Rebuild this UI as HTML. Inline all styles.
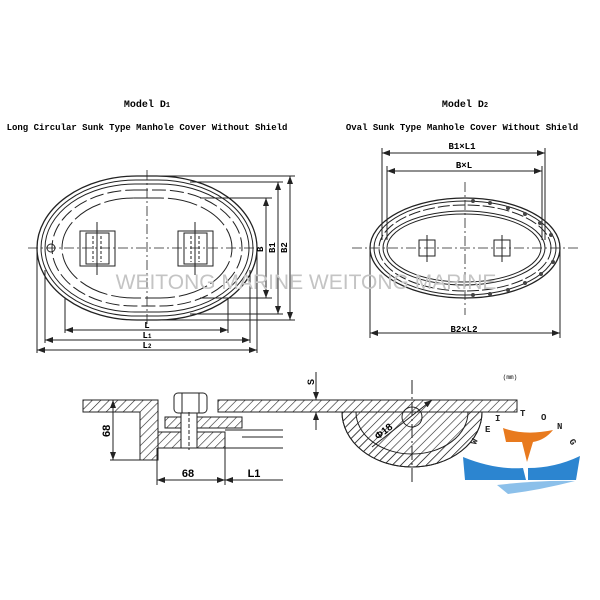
<!DOCTYPE html>
<html><head><meta charset="utf-8">
<style>
html,body{margin:0;padding:0;background:#fff;}
svg{display:block;}
text{font-family:"Liberation Mono",monospace;}
</style></head><body>
<svg width="600" height="600" viewBox="0 0 600 600" xmlns="http://www.w3.org/2000/svg">
<defs>
<pattern id="h" width="6" height="6" patternUnits="userSpaceOnUse" patternTransform="rotate(45)">
<line x1="0" y1="0" x2="0" y2="6" stroke="#222" stroke-width="1.2"/>
</pattern>
<marker id="a" markerWidth="8" markerHeight="6" refX="8" refY="3" orient="auto-start-reverse" markerUnits="userSpaceOnUse">
<path d="M0,0 L8,3 L0,6z" fill="#222"/></marker>
</defs>
<rect width="600" height="600" fill="#fff"/>
<text x="147" y="107" font-size="10" font-weight="bold" text-anchor="middle">Model D<tspan font-size="7">1</tspan></text>
<text x="147" y="130" font-size="9" font-weight="bold" text-anchor="middle">Long Circular Sunk Type Manhole Cover Without Shield</text>
<text x="465" y="107" font-size="10" font-weight="bold" text-anchor="middle">Model D<tspan font-size="7">2</tspan></text>
<text x="462" y="130" font-size="9" font-weight="bold" text-anchor="middle">Oval Sunk Type Manhole Cover Without Shield</text>

<g fill="none" stroke="#222" stroke-width="1">
<rect x="37" y="176" width="220" height="144" rx="100" ry="72" stroke-width="1.3"/>
<rect x="41" y="180" width="212" height="136" rx="95" ry="68"/>
<rect x="45" y="184" width="204" height="128" rx="90" ry="64"/>
<rect x="52" y="190" width="190" height="116" rx="82" ry="58" stroke-dasharray="14,4"/>
<rect x="62" y="198" width="170" height="100" rx="72" ry="50" stroke-dasharray="30,4"/>
<line x1="28" y1="248" x2="262" y2="248" stroke-dasharray="10,3,2,3" stroke-width="0.8"/>
<line x1="147" y1="170" x2="147" y2="326" stroke-dasharray="10,3,2,3" stroke-width="0.8"/>
<rect x="80" y="231" width="35" height="35"/><rect x="86" y="233" width="23" height="31"/>
<rect x="178" y="231" width="35" height="35"/><rect x="184" y="233" width="23" height="31"/>
<line x1="97" y1="222" x2="97" y2="275"/><line x1="195" y1="222" x2="195" y2="275"/>
<line x1="93" y1="236" x2="93" y2="262" stroke-dasharray="3,2"/><line x1="101" y1="236" x2="101" y2="262" stroke-dasharray="3,2"/>
<line x1="191" y1="236" x2="191" y2="262" stroke-dasharray="3,2"/><line x1="199" y1="236" x2="199" y2="262" stroke-dasharray="3,2"/>
<circle cx="51" cy="248" r="4"/>
<line x1="65" y1="298" x2="65" y2="333"/><line x1="228" y1="298" x2="228" y2="333"/>
<line x1="45" y1="270" x2="45" y2="343"/><line x1="250" y1="270" x2="250" y2="343"/>
<line x1="37" y1="248" x2="37" y2="353"/><line x1="257" y1="248" x2="257" y2="353"/>
<line x1="65" y1="330" x2="228" y2="330" marker-start="url(#a)" marker-end="url(#a)"/>
<line x1="45" y1="340" x2="250" y2="340" marker-start="url(#a)" marker-end="url(#a)"/>
<line x1="37" y1="350" x2="257" y2="350" marker-start="url(#a)" marker-end="url(#a)"/>
<line x1="200" y1="198" x2="272" y2="198"/><line x1="200" y1="298" x2="272" y2="298"/>
<line x1="190" y1="182" x2="283" y2="182"/><line x1="190" y1="314" x2="283" y2="314"/>
<line x1="147" y1="176" x2="295" y2="176"/><line x1="147" y1="320" x2="295" y2="320"/>
<line x1="266" y1="198" x2="266" y2="298" marker-start="url(#a)" marker-end="url(#a)"/>
<line x1="278" y1="182" x2="278" y2="314" marker-start="url(#a)" marker-end="url(#a)"/>
<line x1="290" y1="176" x2="290" y2="320" marker-start="url(#a)" marker-end="url(#a)"/>

<ellipse cx="465" cy="248" rx="95" ry="50" stroke-width="1.3"/>
<ellipse cx="465" cy="248" rx="91" ry="47"/>
<ellipse cx="465" cy="248" rx="86" ry="43" stroke-dasharray="12,3"/>
<ellipse cx="464" cy="248" rx="81" ry="37"/>
<ellipse cx="464" cy="248" rx="77" ry="34"/>
<line x1="352" y1="248" x2="578" y2="248" stroke-dasharray="10,3,2,3" stroke-width="0.8"/>
<line x1="465" y1="182" x2="465" y2="315" stroke-dasharray="10,3,2,3" stroke-width="0.8"/>
<rect x="419" y="240" width="16" height="16"/><line x1="427" y1="235" x2="427" y2="262"/>
<rect x="494" y="240" width="16" height="16"/><line x1="502" y1="235" x2="502" y2="262"/>
<line x1="382" y1="148" x2="382" y2="240"/><line x1="545" y1="148" x2="545" y2="240"/>
<line x1="387" y1="166" x2="387" y2="240"/><line x1="542" y1="166" x2="542" y2="240"/>
<line x1="370" y1="250" x2="370" y2="338"/><line x1="560" y1="250" x2="560" y2="338"/>
<line x1="382" y1="153" x2="545" y2="153" marker-start="url(#a)" marker-end="url(#a)"/>
<line x1="387" y1="171" x2="542" y2="171" marker-start="url(#a)" marker-end="url(#a)"/>
<line x1="370" y1="333" x2="560" y2="333" marker-start="url(#a)" marker-end="url(#a)"/>
</g>
<g fill="#444">
<circle cx="473" cy="201" r="2"/><circle cx="490" cy="203" r="2"/><circle cx="508" cy="208" r="2"/><circle cx="525" cy="214" r="2"/><circle cx="540" cy="223" r="2"/><circle cx="551" cy="235" r="2"/><circle cx="553" cy="262" r="2"/><circle cx="541" cy="274" r="2"/><circle cx="525" cy="283" r="2"/><circle cx="508" cy="290" r="2"/><circle cx="490" cy="294" r="2"/><circle cx="473" cy="295" r="2"/>
</g>
<text x="462" y="149" font-size="9" font-weight="bold" text-anchor="middle">B1×L1</text>
<text x="464" y="168" font-size="9" font-weight="bold" text-anchor="middle">B×L</text>
<text x="464" y="332" font-size="9" font-weight="bold" text-anchor="middle">B2×L2</text>
<text x="147" y="328" font-size="9" font-weight="bold" text-anchor="middle">L</text>
<text x="147" y="338" font-size="9" font-weight="bold" text-anchor="middle">L<tspan font-size="6">1</tspan></text>
<text x="147" y="348" font-size="9" font-weight="bold" text-anchor="middle">L<tspan font-size="6">2</tspan></text>
<text font-size="9" font-weight="bold" transform="translate(263,252) rotate(-90)">B</text>
<text font-size="9" font-weight="bold" transform="translate(275,253) rotate(-90)">B1</text>
<text font-size="9" font-weight="bold" transform="translate(287,253) rotate(-90)">B2</text>

<text x="306" y="289" font-size="21" fill="#c4c4c4" text-anchor="middle" style="font-family:'Liberation Sans',sans-serif">WEITONG MARINE  WEITONG MARINE</text>

<g stroke="#222" stroke-width="1">
<path d="M83 400 H158 V460 H140 V412 H83 Z" fill="url(#h)"/>
<path d="M218 400 H517 V412 H482 A70 55 0 0 1 342 412 H218 Z" fill="url(#h)"/>
<path d="M342 412 A70 55 0 0 0 482 412 L468 412 A56 42 0 0 1 356 412 Z" fill="url(#h)"/>
<path d="M356 412 H468" fill="none"/>
<path d="M165 417 H242 V428 H165 Z" fill="url(#h)"/>
<path d="M158 432 H225 V448 H158 Z" fill="url(#h)"/>
<rect x="181" y="412" width="16" height="36" fill="#fff"/>
<rect x="174" y="393" width="33" height="20" rx="4" fill="#fff"/>
<line x1="182" y1="393" x2="182" y2="413"/><line x1="199" y1="393" x2="199" y2="413"/>
<line x1="189" y1="412" x2="189" y2="450" stroke-dasharray="4,2"/>
<line x1="225" y1="430" x2="283" y2="430"/><line x1="242" y1="437" x2="283" y2="437"/><line x1="225" y1="448" x2="283" y2="448"/>
<line x1="113" y1="400" x2="113" y2="460" marker-start="url(#a)" marker-end="url(#a)"/>
<line x1="110" y1="460" x2="140" y2="460"/>
<line x1="157" y1="448" x2="157" y2="485"/><line x1="225" y1="448" x2="225" y2="485"/>
<line x1="157" y1="480" x2="225" y2="480" marker-start="url(#a)" marker-end="url(#a)"/>
<line x1="225" y1="480" x2="283" y2="480" marker-start="url(#a)"/>
<line x1="316" y1="372" x2="316" y2="400" marker-end="url(#a)"/>
<line x1="316" y1="412" x2="316" y2="430" marker-start="url(#a)"/>
<line x1="412" y1="380" x2="412" y2="485" stroke-dasharray="14,3,2,3"/>
<circle cx="412" cy="417" r="10" fill="none"/>
<line x1="372" y1="447" x2="432" y2="400" marker-end="url(#a)"/>
</g>
<text font-size="11" font-weight="bold" transform="translate(110,437) rotate(-90)" style="font-family:'Liberation Sans',sans-serif">68</text>
<text x="188" y="477" font-size="11" font-weight="bold" text-anchor="middle" style="font-family:'Liberation Sans',sans-serif">68</text>
<text x="254" y="477" font-size="11" font-weight="bold" text-anchor="middle" style="font-family:'Liberation Sans',sans-serif">L1</text>
<text font-size="9" font-weight="bold" transform="translate(314,385) rotate(-90)" style="font-family:'Liberation Sans',sans-serif">S</text>
<text font-size="10" font-weight="bold" transform="translate(378,440) rotate(-38)" style="font-family:'Liberation Sans',sans-serif">Φ18</text>
<text x="510" y="379" font-size="6" text-anchor="middle">(mm)</text>

<path d="M503 428 Q525 436 553 430 Q545 440 533 442 L527 462 L522 442 L506 442 Z" fill="#e87a1e"/>
<path d="M463 457 Q495 470 523 468 L526 480 L465 480 Z" fill="#2c85d0"/>
<path d="M528 468 Q555 468 580 456 L576 480 L528 480 Z" fill="#2c85d0"/>
<path d="M497 485 Q540 480 575 481 Q540 490 508 494 Z" fill="#8cc0ea"/>
<g font-family="Liberation Serif,serif" font-size="9" font-weight="bold" fill="#222">
<text x="476" y="445" transform="rotate(-70 476 445)">W</text>
<text x="485" y="432">E</text><text x="495" y="421">I</text><text x="520" y="416">T</text>
<text x="541" y="420">O</text><text x="557" y="429">N</text><text x="569" y="441" transform="rotate(60 569 441)">G</text>
</g>
</svg>
</body></html>
